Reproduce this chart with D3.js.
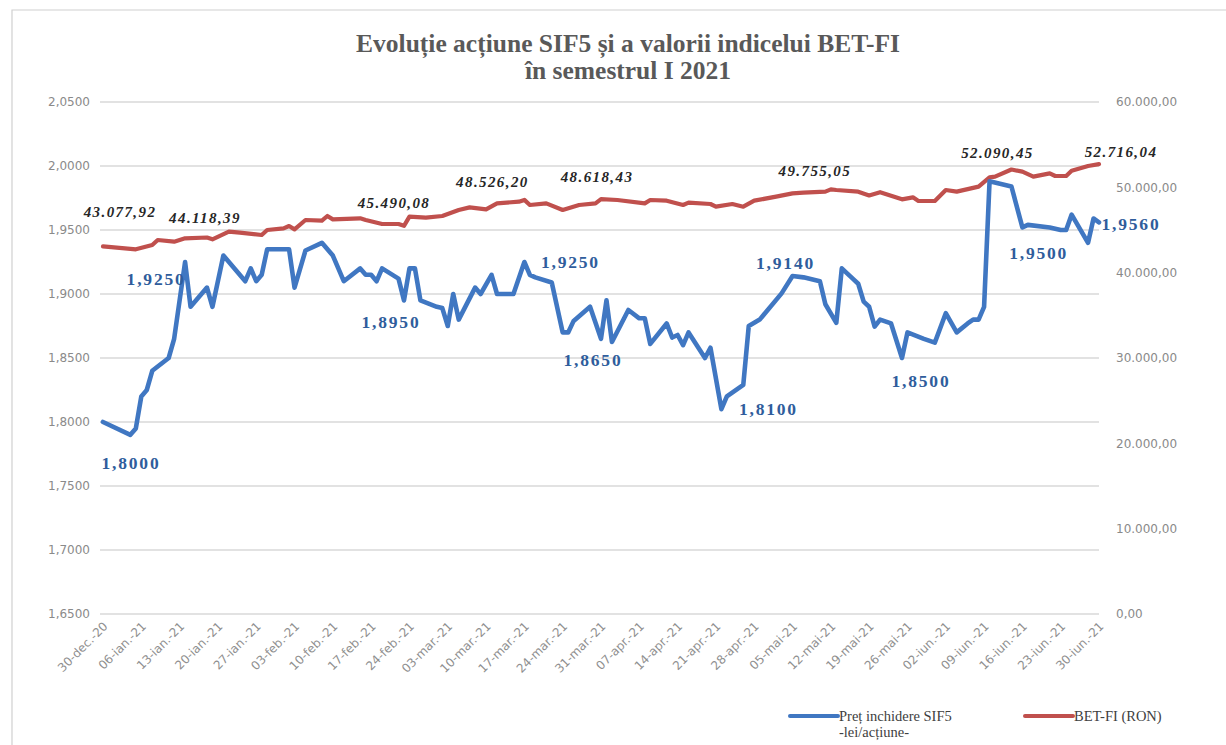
<!DOCTYPE html>
<html><head><meta charset="utf-8">
<script src="https://cdn.jsdelivr.net/npm/d3@7"></script>
<style>body{margin:0;background:#fff;} svg{display:block} .leg{font-family:"Liberation Serif","Times New Roman",serif;}</style>
</head><body><svg id="c" width="1226" height="745"></svg>
<script>
const titleLines = ["Evoluție acțiune SIF5 și a valorii indicelui BET-FI", "în semestrul I 2021"];

const sifDates = ["2020-12-30","2021-01-04","2021-01-05","2021-01-06","2021-01-07","2021-01-08","2021-01-11","2021-01-12","2021-01-14","2021-01-15","2021-01-18","2021-01-19","2021-01-21","2021-01-25","2021-01-26","2021-01-27","2021-01-28","2021-01-29","2021-02-02","2021-02-03","2021-02-05","2021-02-08","2021-02-10","2021-02-12","2021-02-15","2021-02-16","2021-02-17","2021-02-18","2021-02-19","2021-02-22","2021-02-23","2021-02-24","2021-02-25","2021-02-26","2021-03-01","2021-03-02","2021-03-03","2021-03-04","2021-03-05","2021-03-08","2021-03-09","2021-03-11","2021-03-12","2021-03-15","2021-03-17","2021-03-18","2021-03-19","2021-03-22","2021-03-24","2021-03-25","2021-03-26","2021-03-29","2021-03-31","2021-04-01","2021-04-02","2021-04-05","2021-04-07","2021-04-08","2021-04-09","2021-04-12","2021-04-13","2021-04-14","2021-04-15","2021-04-16","2021-04-19","2021-04-20","2021-04-22","2021-04-23","2021-04-26","2021-04-27","2021-04-29","2021-05-03","2021-05-05","2021-05-07","2021-05-10","2021-05-11","2021-05-13","2021-05-14","2021-05-16","2021-05-17","2021-05-18","2021-05-19","2021-05-20","2021-05-21","2021-05-23","2021-05-25","2021-05-26","2021-05-29","2021-05-31","2021-06-02","2021-06-04","2021-06-06","2021-06-07","2021-06-08","2021-06-09","2021-06-10","2021-06-14","2021-06-16","2021-06-17","2021-06-21","2021-06-23","2021-06-24","2021-06-25","2021-06-28","2021-06-29","2021-06-30"];
const sifValues = [1.8000,1.790,1.795,1.820,1.825,1.840,1.850,1.865,1.925,1.890,1.905,1.890,1.930,1.910,1.920,1.910,1.915,1.935,1.935,1.905,1.934,1.940,1.930,1.910,1.920,1.915,1.915,1.910,1.920,1.912,1.895,1.920,1.920,1.895,1.890,1.889,1.875,1.900,1.880,1.905,1.900,1.915,1.900,1.900,1.925,1.915,1.913,1.909,1.870,1.870,1.879,1.890,1.865,1.895,1.8625,1.8875,1.881,1.881,1.861,1.877,1.866,1.868,1.860,1.870,1.850,1.858,1.810,1.820,1.829,1.875,1.880,1.9005,1.914,1.913,1.910,1.892,1.8775,1.920,1.912,1.908,1.894,1.890,1.8745,1.880,1.877,1.850,1.870,1.865,1.862,1.885,1.870,1.877,1.880,1.880,1.890,1.988,1.984,1.952,1.954,1.952,1.950,1.950,1.962,1.940,1.959,1.956];

const betDates = ["2020-12-30","2021-01-05","2021-01-08","2021-01-09","2021-01-12","2021-01-14","2021-01-18","2021-01-19","2021-01-22","2021-01-24","2021-01-28","2021-01-29","2021-02-01","2021-02-02","2021-02-03","2021-02-05","2021-02-08","2021-02-09","2021-02-10","2021-02-15","2021-02-16","2021-02-19","2021-02-22","2021-02-23","2021-02-24","2021-02-27","2021-03-02","2021-03-05","2021-03-07","2021-03-10","2021-03-12","2021-03-16","2021-03-17","2021-03-18","2021-03-21","2021-03-24","2021-03-27","2021-03-30","2021-03-31","2021-04-03","2021-04-08","2021-04-09","2021-04-12","2021-04-15","2021-04-16","2021-04-20","2021-04-21","2021-04-24","2021-04-26","2021-04-28","2021-05-02","2021-05-05","2021-05-07","2021-05-11","2021-05-12","2021-05-13","2021-05-17","2021-05-19","2021-05-21","2021-05-25","2021-05-27","2021-05-28","2021-05-31","2021-06-02","2021-06-04","2021-06-08","2021-06-10","2021-06-11","2021-06-14","2021-06-16","2021-06-18","2021-06-21","2021-06-22","2021-06-24","2021-06-25","2021-06-28","2021-06-30"];
const betValues = [43077.92,42740,43240,43830,43630,44023,44118.39,43906,44805,44687,44414,45000,45195,45469,45078,46172,46094,46641,46250,46367,46172,45703,45703,45490.08,46563,46445,46641,47344,47656,47422,48125,48320,48526.20,47930,48125,47344,47930,48125,48618.43,48516,48125,48516,48438,47930,48203,48047,47734,48047,47734,48438,48906,49297,49375,49492,49755.05,49688,49492,49050,49430,48594,48828,48398,48398,49688,49492,50078,51172,51250,52090.45,51836,51250,51641,51328,51328,51953,52500,52716.04];

const leftTicks = [1.65,1.70,1.75,1.80,1.85,1.90,1.95,2.00,2.05];
const rightTicks = [0,10000,20000,30000,40000,50000,60000];
const xTickLabels = ["30-dec.-20","06-ian.-21","13-ian.-21","20-ian.-21","27-ian.-21","03-feb.-21","10-feb.-21","17-feb.-21","24-feb.-21","03-mar.-21","10-mar.-21","17-mar.-21","24-mar.-21","31-mar.-21","07-apr.-21","14-apr.-21","21-apr.-21","28-apr.-21","05-mai-21","12-mai-21","19-mai-21","26-mai-21","02-iun.-21","09-iun.-21","16-iun.-21","23-iun.-21","30-iun.-21"];

const sifLabelDates = ["2020-12-30","2021-01-14","2021-02-23","2021-03-17","2021-03-31","2021-04-22","2021-05-05","2021-05-25","2021-06-23","2021-06-30"];
const sifLabelValues = [1.8,1.925,1.895,1.925,1.865,1.81,1.914,1.85,1.95,1.956];
const betLabelDates = ["2020-12-30","2021-01-18","2021-02-23","2021-03-17","2021-03-31","2021-05-12","2021-06-14","2021-06-30"];
const betLabelValues = [43077.92,44118.39,45490.08,48526.20,48618.43,49755.05,52090.45,52716.04];

const legendNames = [["Preț inchidere SIF5","-lei/acțiune-"],["BET-FI (RON)"]];

// ---- placement (not data) ----
const sifLabelOffsets = [[28,41],[-29,17],[-13,22],[46,0],[-8,21],[47,0],[-7,-13],[19,23],[-22,23],[32,2]];
const betLabelOffsets = [[17,-34],[-2,-20],[-10,-23],[-32,-18],[-4,-22],[-16,-18],[-14,-16],[22,-12]];
const P = {left:103, right:1099, top:102, bottom:614};
const BLUE = "#4077c2", RED = "#c0504d";

const parse = d3.timeParse("%Y-%m-%d");
const ro = d3.formatLocale({decimal:",", thousands:".", grouping:[3], currency:["",""]});
const fmtL = v => d3.format(".4f")(v).replace(".", ",");
const fmtR = ro.format(",.2f");

const svg = d3.select("#c");
svg.append("rect").attr("width",1226).attr("height",745).attr("fill","#fff");
// outer frame
svg.append("path").attr("d","M12,760 L12,10 L1240,10").attr("fill","none").attr("stroke","#d0d0d0").attr("stroke-width",1.2);

const x = d3.scaleTime().domain([parse("2020-12-30"), parse("2021-06-30")]).range([P.left, P.right]);
const yL = d3.scaleLinear().domain([1.65, 2.05]).range([P.bottom, P.top]);
const yR = d3.scaleLinear().domain([0, 60000]).range([P.bottom, P.top]);

// title
svg.append("text").attr("x",628).attr("y",0).attr("text-anchor","middle")
  .attr("font-family","Liberation Serif").attr("font-weight","bold").attr("font-size",25.5).attr("fill","#595959")
  .selectAll("tspan").data(titleLines).join("tspan").attr("x",628).attr("y",(d,i)=>52+i*27).text(d=>d);

// gridlines
svg.append("g").selectAll("line").data(leftTicks).join("line")
  .attr("x1",P.left-3).attr("x2",P.right).attr("y1",d=>yL(d)).attr("y2",d=>yL(d))
  .attr("stroke","#d9d9d9").attr("stroke-width",1.3);

// left axis
const gL = svg.append("g").attr("transform",`translate(${P.left-13},0)`)
  .call(d3.axisLeft(yL).tickValues(leftTicks).tickSize(0).tickPadding(0).tickFormat(fmtL));
gL.select(".domain").remove();
gL.selectAll("text").attr("font-family","DejaVu Sans").attr("font-size",12).attr("fill","#8a8a8a");

// right axis
const gR = svg.append("g").attr("transform",`translate(${P.right+17},0)`)
  .call(d3.axisRight(yR).tickValues(rightTicks).tickSize(0).tickPadding(0).tickFormat(fmtR));
gR.select(".domain").remove();
gR.selectAll("text").attr("font-family","DejaVu Sans").attr("font-size",12).attr("fill","#8a8a8a");

// x axis
const xTicks = d3.range(xTickLabels.length).map(i => d3.timeDay.offset(parse("2020-12-30"), 7*i));
const gX = svg.append("g").attr("transform",`translate(0,${P.bottom})`)
  .call(d3.axisBottom(x).tickValues(xTicks).tickSize(0).tickFormat((d,i)=>xTickLabels[i]));
gX.select(".domain").remove();
gX.selectAll("text").attr("font-family","DejaVu Sans").attr("font-size",12).attr("fill","#8f8f8f")
  .style("fill","#8f8f8f")
  .attr("text-anchor","end").attr("dy",0).attr("y",0)
  .attr("transform","translate(5,13) rotate(-45)");

// lines
const sif = sifDates.map((d,i)=>({date:parse(d), v:sifValues[i]}));
const bet = betDates.map((d,i)=>({date:parse(d), v:betValues[i]}));
svg.append("path").datum(bet).attr("fill","none").attr("stroke",RED).attr("stroke-width",4.2)
  .attr("stroke-linejoin","round").attr("stroke-linecap","round")
  .attr("d", d3.line().x(d=>x(d.date)).y(d=>yR(d.v)));
svg.append("path").datum(sif).attr("fill","none").attr("stroke",BLUE).attr("stroke-width",4.6)
  .attr("stroke-linejoin","round").attr("stroke-linecap","round")
  .attr("d", d3.line().x(d=>x(d.date)).y(d=>yL(d.v)));

// data labels
svg.append("g").selectAll("text").data(betLabelDates).join("text")
  .attr("x",(d,i)=>x(parse(d))+betLabelOffsets[i][0]).attr("y",(d,i)=>yR(betLabelValues[i])+betLabelOffsets[i][1])
  .attr("text-anchor","middle").attr("dominant-baseline","central")
  .attr("font-family","Liberation Serif").attr("font-weight","bold").attr("font-style","italic")
  .attr("font-size",15).attr("letter-spacing",1.4).attr("fill","#262626")
  .text((d,i)=>fmtR(betLabelValues[i]));
svg.append("g").selectAll("text").data(sifLabelDates).join("text")
  .attr("x",(d,i)=>x(parse(d))+sifLabelOffsets[i][0]).attr("y",(d,i)=>yL(sifLabelValues[i])+sifLabelOffsets[i][1])
  .attr("text-anchor","middle").attr("dominant-baseline","central")
  .attr("font-family","Liberation Serif").attr("font-weight","bold")
  .attr("font-size",17.5).attr("letter-spacing",1.8).attr("fill","#2f5d9c")
  .text((d,i)=>fmtL(sifLabelValues[i]));

// legend
const leg = [{c:BLUE, x:790, names:legendNames[0]},{c:RED, x:1025, names:legendNames[1]}];
const lg = svg.append("g").selectAll("g").data(leg).join("g");
lg.append("line").attr("x1",d=>d.x).attr("x2",d=>d.x+48).attr("y1",716).attr("y2",716)
  .attr("stroke",d=>d.c).attr("stroke-width",4).attr("stroke-linecap","round");
lg.append("text").attr("class","leg").attr("font-size",14.5).attr("fill","#404040")
  .selectAll("tspan").data(d=>d.names.map(n=>({n, x:d.x}))).join("tspan")
  .attr("x",d=>d.x+49).attr("y",(d,i)=>721+i*16).text(d=>d.n);
</script></body></html>
